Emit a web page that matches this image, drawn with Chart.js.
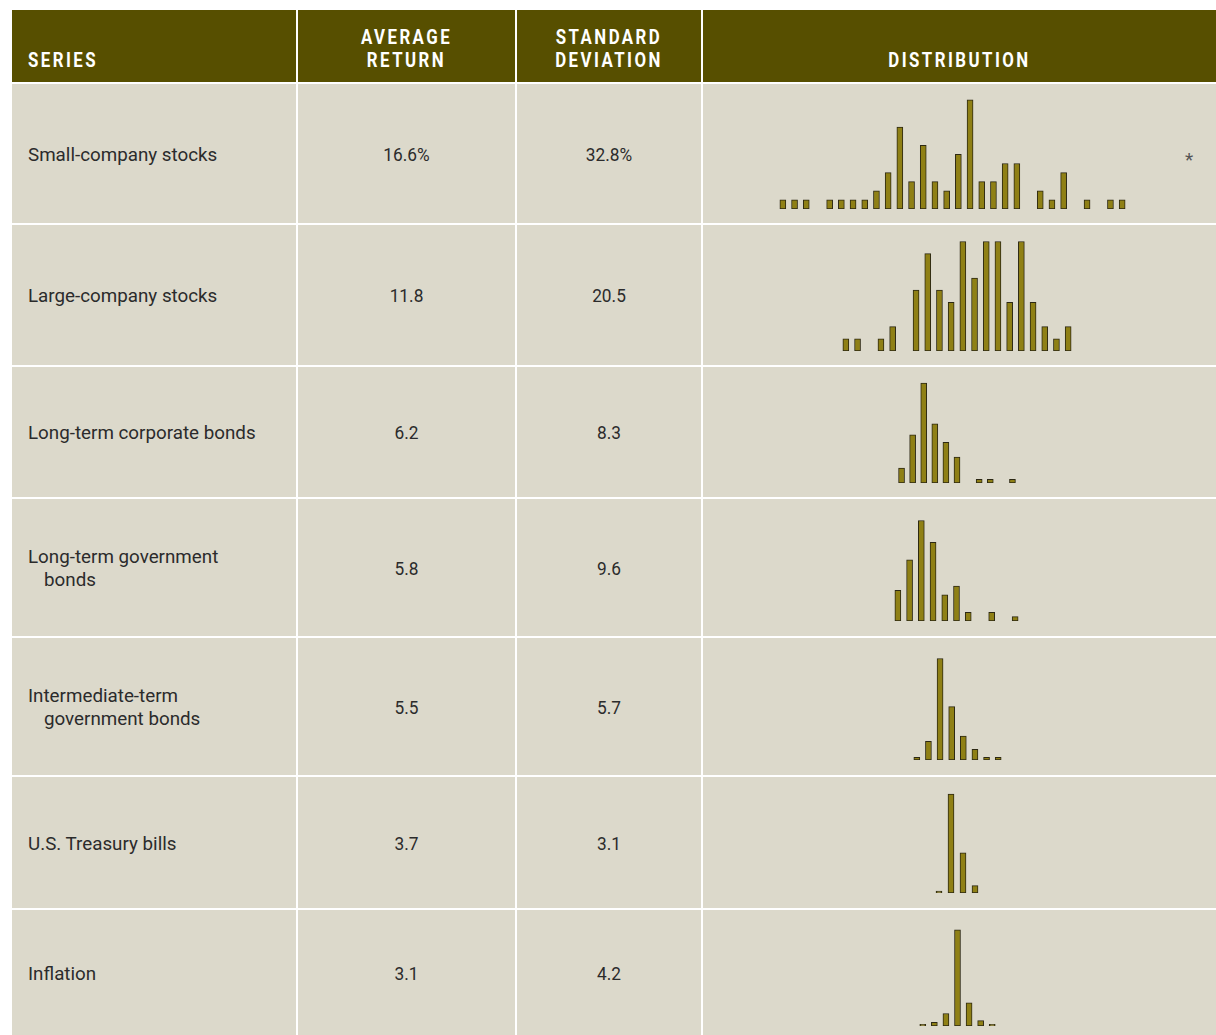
<!DOCTYPE html>
<html>
<head>
<meta charset="utf-8">
<script src="https://cdn.jsdelivr.net/npm/chart.js@4"></script>
<style>
  html, body { margin: 0; padding: 0; background: #ffffff; }
  body { width: 1216px; height: 1035px; position: relative; overflow: hidden;
         font-family: Roboto, "Liberation Sans", sans-serif; }
  .cell { position: absolute; background: #dcd9cb; }
  .head { position: absolute; background: #574f00; color: #ffffff; font-weight: bold;
          font-size: 20.5px; letter-spacing: 3px; line-height: 23px; }
  .txt { position: absolute; color: #2b2b2b; font-size: 18.8px; line-height: 23px; }
  .num { position: absolute; color: #2b2b2b; font-size: 18.8px; text-align: center; }
  canvas { position: absolute; }
</style>
</head>
<body>
<script>
// table contents
const seriesNames = [
  ["Small-company stocks"],
  ["Large-company stocks"],
  ["Long-term corporate bonds"],
  ["Long-term government", "bonds"],
  ["Intermediate-term", "government bonds"],
  ["U.S. Treasury bills"],
  ["Inflation"]
];
const avgReturn = ["16.6%", "11.8", "6.2", "5.8", "5.5", "3.7", "3.1"];
const stdDev = ["32.8%", "20.5", "8.3", "9.6", "5.7", "3.1", "4.2"];

// distribution counts (years per return bin)
const smallDist = [1, 1, 1, 0, 1, 1, 1, 1, 2, 4, 9, 3, 7, 3, 2, 6, 12, 3, 3, 5, 5, 0, 2, 1, 4, 0, 1, 0, 1, 1];
const largeDist = [1, 1, 0, 1, 2, 0, 5, 8, 5, 4, 9, 6, 9, 9, 4, 9, 4, 2, 1, 2];
const corpDist = [4, 13, 27, 16, 11, 7, 0, 1, 1, 0, 1];
const govtDist = [7, 14, 23, 18, 6, 8, 2, 0, 2, 0, 1];
const interDist = [1, 7, 38, 20, 9, 4, 1, 1];
const billsDist = [1, 54, 22, 4];
const inflDist = [1, 2, 7, 54, 13, 3, 1];

const distributions = [smallDist, largeDist, corpDist, govtDist, interDist, billsDist, inflDist];

// layout (pixels)
const colEdges = [12, 297, 516, 702, 1216];
const rowEdges = [10, 83, 224, 366, 498, 637, 776, 909, 1036];
// per chart: first bar centre, bar spacing, baseline y, pixels per year
const chartFirst = [782.7, 846, 901.7, 898.3, 916.7, 939.3, 922.7];
const chartStep = [11.7, 11.68, 11.1, 11.77, 11.63, 11.9, 11.5];
const chartBase = [208.5, 350.5, 482.5, 621, 760, 893, 1025.5];
const chartUnit = [9.1, 12.17, 3.7, 4.37, 2.67, 1.83, 1.78];

function box(cls, x1, y1, x2, y2) {
  const d = document.createElement('div');
  d.className = cls;
  d.style.left = x1 + 'px';
  d.style.top = y1 + 'px';
  d.style.width = (x2 - x1) + 'px';
  d.style.height = (y2 - y1) + 'px';
  document.body.appendChild(d);
  return d;
}

// header
const headers = [["SERIES"], ["AVERAGE", "RETURN"], ["STANDARD", "DEVIATION"], ["DISTRIBUTION"]];
headers.forEach((h, c) => {
  const x1 = colEdges[c] + (c > 0 ? 1 : 0);
  const x2 = colEdges[c + 1] - (c < 3 ? 1 : 0);
  const d = box('head', x1, rowEdges[0], x2, rowEdges[1] - 1);
  const t = document.createElement('div');
  t.style.position = 'absolute';
  t.style.bottom = '10px';
  if (c === 0) {
    t.style.left = '16px';
    t.style.transformOrigin = 'left bottom';
  } else {
    t.style.left = '0';
    t.style.right = '0';
    t.style.textAlign = 'center';
    t.style.transformOrigin = 'center bottom';
  }
  t.style.transform = 'scaleX(0.82)';
  t.innerHTML = h.join('<br>');
  d.appendChild(t);
});

// body cells
for (let r = 0; r < seriesNames.length; r++) {
  const y1 = rowEdges[r + 1] + 1;
  const y2 = rowEdges[r + 2] - 1;
  for (let c = 0; c < 4; c++) {
    const x1 = colEdges[c] + (c > 0 ? 1 : 0);
    const x2 = colEdges[c + 1] - (c < 3 ? 1 : 0);
    box('cell', x1, y1, x2, y2);
  }
  const mid = (y1 + y2) / 2;
  const lines = seriesNames[r];
  const name = document.createElement('div');
  name.className = 'txt';
  name.style.left = '28px';
  name.style.top = (mid - lines.length * 23 / 2 + 1.5) + 'px';
  name.innerHTML = lines.map((l, i) => i ? '<span style="padding-left:16px">' + l + '</span>' : l).join('<br>');
  document.body.appendChild(name);

  [avgReturn[r], stdDev[r]].forEach((v, k) => {
    const n = document.createElement('div');
    n.className = 'num';
    n.style.left = colEdges[k + 1] + 'px';
    n.style.width = (colEdges[k + 2] - colEdges[k + 1]) + 'px';
    n.style.top = (mid - 10) + 'px';
    n.style.transform = 'scaleX(0.92)';
    n.textContent = v;
    document.body.appendChild(n);
  });
}

// footnote mark in the first distribution cell
const star = document.createElement('div');
star.style.cssText = 'position:absolute;left:1185px;top:148px;color:#555;font-size:19px;';
star.textContent = '*';
document.body.appendChild(star);

// distribution charts
const chartHeight = 128;
distributions.forEach((bins, i) => {
  const cv = document.createElement('canvas');
  const w = Math.round(bins.length * chartStep[i]);
  cv.width = w;
  cv.height = chartHeight;
  cv.style.left = (chartFirst[i] - chartStep[i] / 2) + 'px';
  cv.style.top = (chartBase[i] - chartHeight) + 'px';
  document.body.appendChild(cv);

  new Chart(cv.getContext('2d'), {
    type: 'bar',
    data: {
      labels: bins.map((_, k) => k + 1),
      datasets: [{
        data: bins,
        backgroundColor: '#8f8015',
        borderColor: '#2c2813',
        borderWidth: 1,
        borderSkipped: false,
        barThickness: 6,
        categoryPercentage: 1
      }]
    },
    options: {
      responsive: false,
      animation: false,
      events: [],
      layout: { padding: 0 },
      plugins: { legend: { display: false }, tooltip: { enabled: false } },
      scales: {
        x: { display: false },
        y: { display: false, min: 0, max: chartHeight / chartUnit[i] }
      }
    }
  });
});
</script>
</body>
</html>
